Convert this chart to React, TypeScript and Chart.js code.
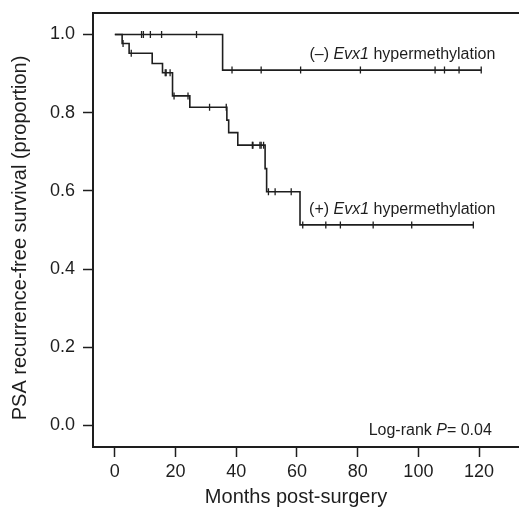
import React, { useEffect, useRef } from "react";
import { Chart, registerables } from "chart.js";

Chart.register(...registerables);

const FONT = '"Liberation Sans", Arial, Helvetica, sans-serif';
const INK = "#1e1e1e";

// Axis ticks
const xTicks = [0, 20, 40, 60, 80, 100, 120];
const yTicks = [0.0, 0.2, 0.4, 0.6, 0.8, 1.0];

// (–) Evx1 hypermethylation: event times (months) and survival after each event
const negEventTimes = [0, 35.5];
const negEventSurv = [1.0, 0.909];
const negEndTime = 120.7;
const negCensorTimes = [8.8, 9.4, 11.7, 15.4, 26.9, 38.6, 48.2, 61.2, 80.9, 105.5, 108.6, 113.4, 120.7];

// (+) Evx1 hypermethylation
const posEventTimes = [0, 2.4, 4.7, 12.3, 15.7, 19.0, 24.7, 36.9, 37.5, 40.5, 49.5, 50.0, 61.0];
const posEventSurv = [1.0, 0.977, 0.952, 0.926, 0.902, 0.843, 0.814, 0.781, 0.749, 0.717, 0.657, 0.598, 0.513];
const posEndTime = 118.1;
const posCensorTimes = [
  2.7, 5.4, 16.6, 16.9, 18.2, 19.5, 24.1, 31.2, 36.7, 45.3, 45.5, 47.8, 48.2, 49.0,
  50.6, 52.8, 58.1, 61.9, 69.5, 74.3, 85.1, 97.8, 118.1,
];

const xTitle = "Months post-surgery";
const yTitle = "PSA recurrence-free survival (proportion)";
const negLabel = ["(\u2013) ", "Evx1", " hypermethylation"];
const posLabel = ["(+) ", "Evx1", " hypermethylation"];
const logRank = ["Log-rank ", "P", "= 0.04"];

function stepPoints(times: number[], surv: number[], end: number) {
  const pts = times.map((t, i) => ({ x: t, y: surv[i] }));
  pts.push({ x: end, y: surv[surv.length - 1] });
  return pts;
}

function survivalAt(times: number[], surv: number[], t: number) {
  let s = surv[0];
  for (let i = 0; i < times.length; i++) if (times[i] <= t) s = surv[i];
  return s;
}

function censorPoints(times: number[], surv: number[], censors: number[]) {
  return censors.map((t) => ({ x: t, y: survivalAt(times, surv, t) }));
}

function drawMixed(ctx: CanvasRenderingContext2D, parts: string[], x: number, y: number, size: number, italicIdx: number, align: "left" | "right") {
  const fonts = parts.map((_, i) => `${i === italicIdx ? "italic " : ""}${size}px ${FONT}`);
  const widths = parts.map((p, i) => {
    ctx.font = fonts[i];
    return ctx.measureText(p).width;
  });
  const total = widths.reduce((a, b) => a + b, 0);
  let cx = align === "left" ? x : x - total;
  ctx.textAlign = "left";
  ctx.textBaseline = "middle";
  parts.forEach((p, i) => {
    ctx.font = fonts[i];
    ctx.fillText(p, cx, y);
    cx += widths[i];
  });
}

const decorPlugin = {
  id: "decor",
  afterDraw(chart: any) {
    const { ctx, chartArea: a, scales } = chart;
    const x = scales.x;
    const y = scales.y;
    ctx.save();
    ctx.strokeStyle = INK;
    ctx.lineWidth = 2;
    ctx.strokeRect(a.left, a.top, a.right - a.left + 30, a.bottom - a.top);
    ctx.fillStyle = INK;
    drawMixed(ctx, negLabel, x.getPixelForValue(64.1), y.getPixelForValue(0.949), 16, 1, "left");
    drawMixed(ctx, posLabel, x.getPixelForValue(64.0), y.getPixelForValue(0.552), 16, 1, "left");
    drawMixed(ctx, logRank, x.getPixelForValue(124.2), y.getPixelForValue(-0.013), 16, 1, "right");
    ctx.font = `20px ${FONT}`;
    ctx.textAlign = "center";
    ctx.textBaseline = "middle";
    ctx.fillText(xTitle, a.left + 203, a.bottom + 50);
    ctx.translate(20, a.top + 225);
    ctx.rotate(-Math.PI / 2);
    ctx.fillText(yTitle, 0, 0);
    ctx.restore();
  },
};

export default function App() {
  const ref = useRef<HTMLCanvasElement | null>(null);
  useEffect(() => {
    if (!ref.current) return;
    const lineDs = (data: any[]) => ({
      type: "line" as const,
      data,
      stepped: "before" as const,
      borderColor: INK,
      borderWidth: 1.6,
      pointRadius: 0,
      fill: false,
      tension: 0,
    });
    const censorDs = (data: any[]) => ({
      type: "scatter" as const,
      data,
      showLine: false,
      pointStyle: "line" as const,
      rotation: 90,
      pointRadius: 3.5,
      pointBorderWidth: 1.3,
      borderColor: INK,
      backgroundColor: INK,
    });
    const chart = new Chart(ref.current, {
      type: "line",
      data: {
        datasets: [
          lineDs(stepPoints(negEventTimes, negEventSurv, negEndTime)),
          censorDs(censorPoints(negEventTimes, negEventSurv, negCensorTimes)),
          lineDs(stepPoints(posEventTimes, posEventSurv, posEndTime)),
          censorDs(censorPoints(posEventTimes, posEventSurv, posCensorTimes)),
        ] as any,
      },
      options: {
        animation: false,
        responsive: false,
        devicePixelRatio: 1,
        layout: { padding: { top: 13, left: 0, right: 0, bottom: 0 } },
        plugins: { legend: { display: false }, tooltip: { enabled: false } },
        scales: {
          x: {
            type: "linear",
            min: -7.2,
            max: 131.4,
            afterBuildTicks: (s: any) => {
              s.ticks = xTicks.map((v) => ({ value: v }));
            },
            afterFit: (s: any) => {
              s.height = 62;
              s.paddingLeft = 0;
              s.paddingRight = 0;
              s.paddingTop = 0;
              s.paddingBottom = 0;
            },
            border: { display: false },
            grid: { drawOnChartArea: false, drawTicks: true, tickLength: 10, tickWidth: 1.5, tickColor: INK },
            ticks: { color: INK, font: { family: FONT, size: 18 }, padding: 4, maxRotation: 0, autoSkip: false },
          },
          y: {
            type: "linear",
            min: -0.055,
            max: 1.055,
            afterBuildTicks: (s: any) => {
              s.ticks = yTicks.map((v) => ({ value: v }));
            },
            afterFit: (s: any) => {
              s.width = 93;
              s.paddingLeft = 0;
              s.paddingRight = 0;
              s.paddingTop = 0;
              s.paddingBottom = 0;
            },
            border: { display: false },
            grid: { drawOnChartArea: false, drawTicks: true, tickLength: 10, tickWidth: 1.5, tickColor: INK },
            ticks: {
              color: INK,
              font: { family: FONT, size: 18 },
              padding: 8,
              autoSkip: false,
              callback: (v: any) => Number(v).toFixed(1),
            },
          },
        },
      },
      plugins: [decorPlugin],
    });
    return () => chart.destroy();
  }, []);
  return (
    <div style={{ position: "fixed", left: 0, top: 0, width: 519, height: 509, background: "#fff" }}>
      <canvas ref={ref} width={519} height={509} />
    </div>
  );
}
